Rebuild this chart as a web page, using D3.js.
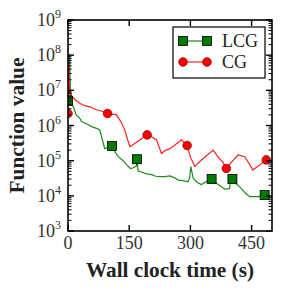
<!DOCTYPE html>
<html>
<head>
<meta charset="utf-8">
<script src="https://cdn.jsdelivr.net/npm/d3@7"></script>
<style>
  body { margin: 0; background: #fff; }
  svg { display: block; }
</style>
</head>
<body>
<div id="chart"></div>
<script>
// LCG curve (green)
const lcgTime  = [0, 4, 5, 7, 10, 14, 20, 29, 33, 46, 58, 70, 78, 84, 90, 100, 108, 115, 123, 135, 144, 153, 160, 168, 169, 172, 183, 193, 205, 215, 225, 238, 250, 260, 270, 282, 294, 298, 301, 305, 307, 317, 327, 340, 352, 360, 368, 376, 384, 396, 398, 403, 412, 421, 433, 445, 455, 466, 475, 482, 492];
const lcgValue = [5.0e6, 1.1e8, 2.0e7, 7.0e6, 4.0e6, 3.2e6, 2.0e6, 1.6e6, 1.3e6, 1.1e6, 9.3e5, 8.3e5, 7.4e5, 4.0e5, 2.2e5, 2.4e5, 2.6e5, 1.8e5, 1.3e5, 1.0e5, 7.6e4, 6.0e4, 6.3e4, 7.1e4, 1.1e5, 5.1e4, 4.6e4, 4.2e4, 4.0e4, 3.6e4, 3.5e4, 3.5e4, 3.7e4, 3.3e4, 2.8e4, 2.7e4, 2.5e4, 3.2e4, 6.8e4, 4.0e4, 3.1e4, 2.4e4, 2.1e4, 2.6e4, 3.0e4, 2.5e4, 2.1e4, 1.8e4, 1.55e4, 1.6e4, 2.8e4, 3.0e4, 2.2e4, 1.8e4, 1.26e4, 9.5e3, 9.5e3, 9.5e3, 1.0e4, 1.05e4, 1.0e4];
const lcgMarkTime  = [0, 108, 169, 352, 403, 482];
const lcgMarkValue = [5.0e6, 2.6e5, 1.1e5, 3.0e4, 3.0e4, 1.05e4];

// CG curve (red)
const cgTime  = [0, 3, 4, 5, 9, 17, 30, 42, 54, 70, 85, 97, 108, 119, 130, 139, 146, 152, 165, 180, 194, 205, 217, 229, 240, 250, 262, 278, 292, 300, 311, 325, 340, 356, 368, 380, 388, 400, 417, 433, 445, 453, 470, 486, 490];
const cgValue = [2.2e6, 5.0e7, 8.0e6, 1.0e7, 7.1e6, 5.4e6, 4.2e6, 3.6e6, 3.4e6, 2.8e6, 2.5e6, 2.2e6, 2.1e6, 2.0e6, 1.26e6, 7.4e5, 4.0e5, 2.5e5, 3.2e5, 4.2e5, 5.4e5, 4.8e5, 3.9e5, 1.6e5, 2.0e5, 2.2e5, 2.8e5, 3.9e5, 2.7e5, 1.26e5, 6.8e4, 1.0e5, 1.4e5, 2.0e5, 1.26e5, 8.9e4, 6.0e4, 8.9e4, 1.45e5, 1.3e5, 7.9e4, 5.4e4, 7.6e4, 1.05e5, 1.0e5];
const cgMarkTime  = [0, 97, 194, 292, 388, 486];
const cgMarkValue = [2.2e6, 2.2e6, 5.4e5, 2.7e5, 6.0e4, 1.05e5];

const xTicks = [0, 150, 300, 450];
const yExponents = [3, 4, 5, 6, 7, 8, 9];
const legendNames = ["LCG", "CG"];

const W = 282, H = 291;
const m = {left: 68, right: 10, top: 20, bottom: 60};
const serif = "'Liberation Serif', 'Times New Roman', serif";

const svg = d3.select("#chart").append("svg")
  .attr("width", W).attr("height", H);

const x = d3.scaleLinear().domain([0, 500]).range([m.left, W - m.right]);
const y = d3.scaleLog().domain([1e3, 1e9]).range([H - m.bottom, m.top]);

const x0 = x.range()[0], x1 = x.range()[1];
const y0 = y.range()[0], y1 = y.range()[1];

/// Clip marks to the axes box, as matplotlib does
svg.append("clipPath").attr("id", "plotClip")
  .append("rect").attr("x", x0).attr("y", y1).attr("width", x1 - x0).attr("height", y0 - y1);

/// Lines
const line = d3.line().x((d) => x(d[0])).y((d) => y(d[1]));
const lcgData = lcgTime.map((t, i) => [t, lcgValue[i]]);
const cgData = cgTime.map((t, i) => [t, cgValue[i]]);

const plot = svg.append("g").attr("clip-path", "url(#plotClip)");
plot.append("path").datum(lcgData).attr("d", line)
  .attr("fill", "none").attr("stroke", "#1e8a1e").attr("stroke-width", 1.2);
plot.append("path").datum(cgData).attr("d", line)
  .attr("fill", "none").attr("stroke", "#ff2020").attr("stroke-width", 1.2);

/// Markers
const sq = 9;
plot.selectAll(".lcgMark").data(lcgMarkTime).enter().append("rect")
  .attr("x", (d) => x(d) - sq / 2)
  .attr("y", (d, i) => y(lcgMarkValue[i]) - sq / 2)
  .attr("width", sq).attr("height", sq)
  .attr("fill", "#007a00").attr("stroke", "#000").attr("stroke-width", 0.8);
plot.selectAll(".cgMark").data(cgMarkTime).enter().append("circle")
  .attr("cx", (d) => x(d))
  .attr("cy", (d, i) => y(cgMarkValue[i]))
  .attr("r", 4.3)
  .attr("fill", "#ff0000").attr("stroke", "#8a0000").attr("stroke-width", 0.8);

/// Axes (ticks inward, on all four sides)
const axes = svg.append("g").attr("stroke", "#000");

xTicks.forEach((t) => {
  axes.append("line").attr("x1", x(t)).attr("x2", x(t)).attr("y1", y0).attr("y2", y0 - 6).attr("stroke-width", 1.4);
  axes.append("line").attr("x1", x(t)).attr("x2", x(t)).attr("y1", y1).attr("y2", y1 + 6).attr("stroke-width", 1.4);
});

yExponents.forEach((e) => {
  const v = Math.pow(10, e);
  axes.append("line").attr("x1", x0).attr("x2", x0 + 6).attr("y1", y(v)).attr("y2", y(v)).attr("stroke-width", 1.4);
  axes.append("line").attr("x1", x1).attr("x2", x1 - 6).attr("y1", y(v)).attr("y2", y(v)).attr("stroke-width", 1.4);
  if (e < 9) {
    for (let k = 2; k < 10; k++) {
      const vv = k * v;
      axes.append("line").attr("x1", x0).attr("x2", x0 + 3.5).attr("y1", y(vv)).attr("y2", y(vv)).attr("stroke-width", 1);
      axes.append("line").attr("x1", x1).attr("x2", x1 - 3.5).attr("y1", y(vv)).attr("y2", y(vv)).attr("stroke-width", 1);
    }
  }
});

axes.append("rect").attr("x", x0).attr("y", y1)
  .attr("width", x1 - x0).attr("height", y0 - y1)
  .attr("fill", "none").attr("stroke-width", 1.6);

/// Tick labels
svg.selectAll(".xlab").data(xTicks).enter().append("text")
  .attr("x", (d) => x(d)).attr("y", y0 + 18)
  .attr("text-anchor", "middle")
  .style("font-family", serif).style("font-size", "18px").attr("fill", "#333")
  .text((d) => d);

const yl = svg.selectAll(".ylab").data(yExponents).enter().append("text")
  .attr("x", x0 - 7).attr("y", (d) => y(Math.pow(10, d)) + 6)
  .attr("text-anchor", "end")
  .style("font-family", serif).style("font-size", "18px").attr("fill", "#333");
yl.append("tspan").text("10");
yl.append("tspan").attr("dy", -8).style("font-size", "12px").text((d) => d);

/// Axis titles
svg.append("text")
  .attr("x", (x0 + x1) / 2).attr("y", 277)
  .attr("text-anchor", "middle")
  .attr("textLength", 168).attr("lengthAdjust", "spacingAndGlyphs")
  .style("font-family", serif).style("font-size", "21px").style("font-weight", "bold")
  .attr("fill", "#222")
  .text("Wall clock time (s)");

svg.append("text")
  .attr("transform", "translate(24," + (y0 + y1) / 2 + ") rotate(-90)")
  .attr("text-anchor", "middle")
  .attr("textLength", 136).attr("lengthAdjust", "spacingAndGlyphs")
  .style("font-family", serif).style("font-size", "21px").style("font-weight", "bold")
  .attr("fill", "#222")
  .text("Function value");

/// Legend
const lg = svg.append("g");
lg.append("rect").attr("x", 173).attr("y", 27).attr("width", 92).attr("height", 51)
  .attr("fill", "#fff").attr("stroke", "#000").attr("stroke-width", 1.2);
const rows = [41, 62];
legendNames.forEach((name, i) => {
  const ry = rows[i];
  const col = i === 0 ? "#1e8a1e" : "#ff2020";
  lg.append("line").attr("x1", 183).attr("x2", 207).attr("y1", ry).attr("y2", ry)
    .attr("stroke", col).attr("stroke-width", 1.2);
  [183, 207].forEach((mx) => {
    if (i === 0) {
      lg.append("rect").attr("x", mx - sq / 2).attr("y", ry - sq / 2).attr("width", sq).attr("height", sq)
        .attr("fill", "#007a00").attr("stroke", "#000").attr("stroke-width", 0.8);
    } else {
      lg.append("circle").attr("cx", mx).attr("cy", ry).attr("r", 4.3)
        .attr("fill", "#ff0000").attr("stroke", "#8a0000").attr("stroke-width", 0.8);
    }
  });
  lg.append("text").attr("x", 222).attr("y", ry + 6)
    .style("font-family", serif).style("font-size", "18px").attr("fill", "#222")
    .text(name);
});
</script>
</body>
</html>
